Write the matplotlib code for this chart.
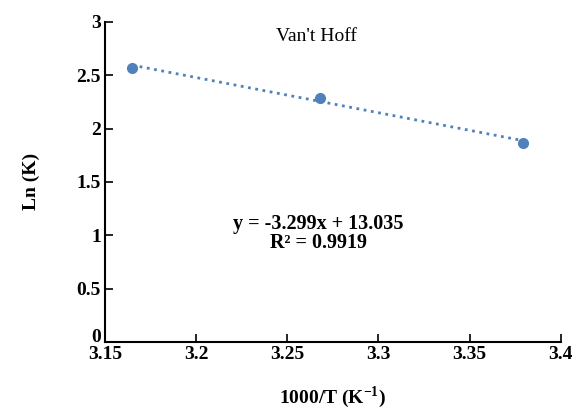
import matplotlib.pyplot as plt
import numpy as np

# data
inv_T = [3.165, 3.268, 3.379]
ln_K = [2.57, 2.29, 1.866]
slope = -3.299
intercept = 13.035
r2 = 0.9919

x_ticks = [3.15, 3.2, 3.25, 3.3, 3.35, 3.4]
x_tick_labels = ["3.15", "3.2", "3.25", "3.3", "3.35", "3.4"]
y_ticks = [0, 0.5, 1, 1.5, 2, 2.5, 3]
y_tick_labels = ["0", "0.5", "1", "1.5", "2", "2.5", "3"]

plt.rcParams['font.family'] = ['Liberation Serif', 'DejaVu Serif']
plt.rcParams['mathtext.fontset'] = 'custom'
plt.rcParams['mathtext.rm'] = 'Liberation Serif'
plt.rcParams['mathtext.bf'] = 'Liberation Serif:bold'

fig = plt.figure(figsize=(5.74, 4.12), dpi=100)
ax = fig.add_axes([0.183, 0.170, 0.794, 0.777])

color = '#4f81bd'
xfit = np.array([inv_T[0], inv_T[-1]])
ax.plot(xfit, slope * xfit + intercept, linestyle=':', color=color, linewidth=2)
ax.plot(inv_T, ln_K, 'o', color=color, markersize=7)

ax.set_xlim(3.15, 3.4)
ax.set_ylim(0, 3)
ax.set_xticks(x_ticks)
ax.set_xticklabels(x_tick_labels, fontweight='bold', fontsize=14)
ax.set_yticks(y_ticks)
ax.set_yticklabels(y_tick_labels, fontweight='bold', fontsize=14)
ax.tick_params(direction='in', length=6, width=1.2)
ax.tick_params(axis='y', pad=3)
ax.tick_params(axis='x', pad=3)
# the "0" sits just above the x axis, as in the original
ax.get_yticklabels()[0].set_va('baseline')

for s in ['top', 'right']:
    ax.spines[s].set_visible(False)
for s in ['left', 'bottom']:
    ax.spines[s].set_linewidth(1.5)

ax.set_xlabel("1000/T (K$^{\\mathbf{-1}}$)", fontweight='bold', fontsize=14, labelpad=15)
ax.set_ylabel("Ln (K)", fontweight='bold', fontsize=14, labelpad=26)

ax.text(3.266, 2.86, "Van't Hoff", fontsize=14, ha='center', va='center')
ax.text(3.267, 1.11, "y = %.3fx + %.3f" % (slope, intercept), fontsize=14.5,
        fontweight='bold', ha='center', va='center')
ax.text(3.267, 0.93, "R² = %.4f" % r2, fontsize=14.5,
        fontweight='bold', ha='center', va='center')

fig.savefig("out.png", dpi=100)
